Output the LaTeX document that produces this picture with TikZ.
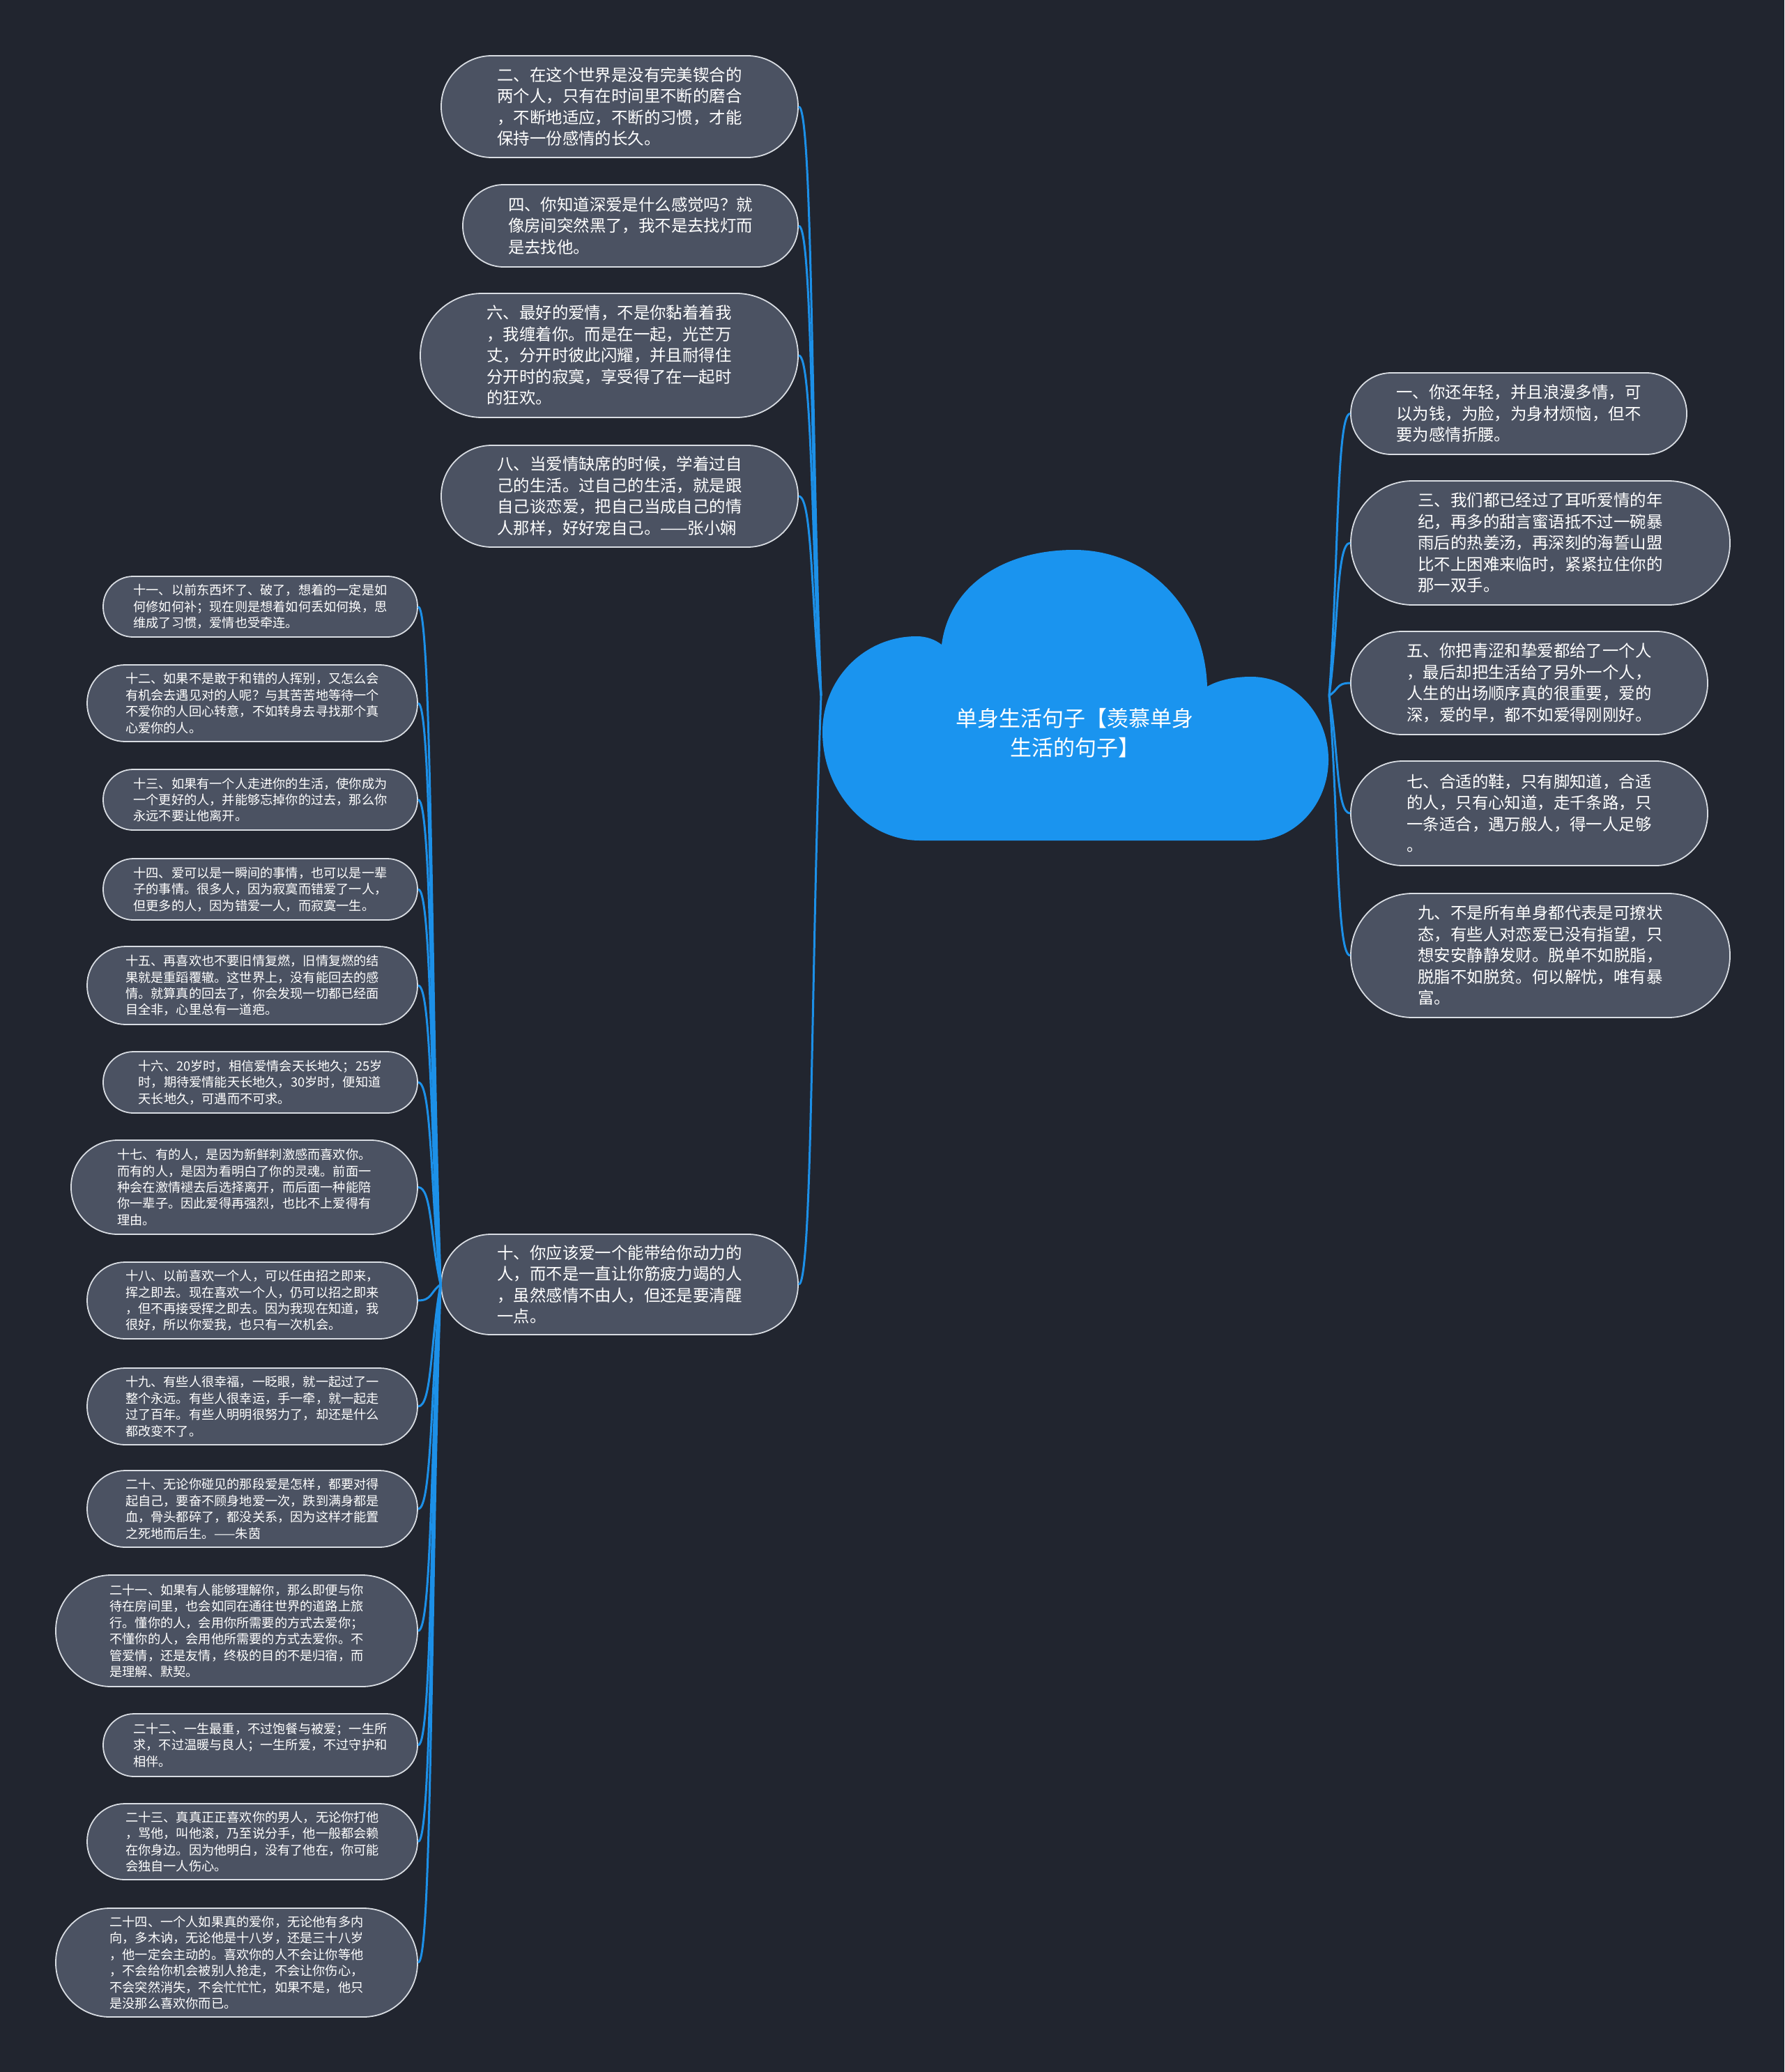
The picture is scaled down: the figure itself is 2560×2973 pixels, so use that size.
\documentclass[tikz,border=0pt]{standalone}
\usepackage{fontspec}
\setmainfont{Noto Sans CJK SC}
\usetikzlibrary{calc}
\definecolor{bgc}{HTML}{21252F}
\definecolor{nodec}{HTML}{4B5262}
\definecolor{cloudc}{HTML}{1A94EF}
\definecolor{linec}{HTML}{1C90E8}
\definecolor{edgec}{HTML}{D8DCE2}
\begin{document}
\begin{tikzpicture}[x=1pt,y=-1pt,
  bigtxt/.style={font=\fontsize{23.4pt}{30.5pt}\selectfont},
  smalltxt/.style={font=\fontsize{18.2pt}{23.4pt}\selectfont},
  capsule/.style 2 args={draw=edgec, line width=1.8pt, fill=nodec, text=white,
    align=left, inner sep=0pt, minimum width=#1pt, minimum height=#2pt,
    rounded corners=#2pt/2-0.5pt},
  conn/.style={draw=linec, line width=3pt}]
\useasboundingbox (0,0) rectangle (2560,2973);
\fill[bgc] (0,0) rectangle (2560,2973);

% cloud
\fill[cloudc] (1351,925)
  .. controls (1362,840) and (1440,789) .. (1541,789)
  .. controls (1646,789) and (1728,870) .. (1732,985)
  .. controls (1748,976) and (1770,971) .. (1795,971)
  .. controls (1856,971) and (1906,1024) .. (1906,1090)
  .. controls (1906,1154) and (1858,1206) .. (1800,1206)
  -- (1320,1206)
  .. controls (1243,1206) and (1180,1136) .. (1180,1050)
  .. controls (1180,974) and (1240,913) .. (1315,913)
  .. controls (1330,913) and (1342,918) .. (1351,925) -- cycle;
\node[font=\fontsize{31pt}{42pt}\selectfont, text=white, align=center] (title) at (1542,1052)
  {单身生活句子【羡慕单身\\生活的句子】};
\coordinate (OL) at (1178,998);
\coordinate (OR) at (1907,998);

% left upper
\node[capsule={512}{146}, bigtxt] (n2) at (889,153) {二、在这个世界是没有完美锲合的\\两个人，只有在时间里不断的磨合\\，不断地适应，不断的习惯，才能\\保持一份感情的长久。};
\node[capsule={481}{118}, bigtxt] (n4) at (904.5,324) {四、你知道深爱是什么感觉吗？就\\像房间突然黑了，我不是去找灯而\\是去找他。};
\node[capsule={542}{178}, bigtxt] (n6) at (874,510) {六、最好的爱情，不是你黏着着我\\，我缠着你。而是在一起，光芒万\\丈，分开时彼此闪耀，并且耐得住\\分开时的寂寞，享受得了在一起时\\的狂欢。};
\node[capsule={512}{146}, bigtxt] (n8) at (889,712) {八、当爱情缺席的时候，学着过自\\己的生活。过自己的生活，就是跟\\自己谈恋爱，把自己当成自己的情\\人那样，好好宠自己。——张小娴};
\node[capsule={512}{144}, bigtxt] (n10) at (889,1843) {十、你应该爱一个能带给你动力的\\人，而不是一直让你筋疲力竭的人\\，虽然感情不由人，但还是要清醒\\一点。};

% right
\node[capsule={482}{117}, bigtxt] (n1) at (2179,593.5) {一、你还年轻，并且浪漫多情，可\\以为钱，为脸，为身材烦恼，但不\\要为感情折腰。};
\node[capsule={544}{178}, bigtxt] (n3) at (2210,779) {三、我们都已经过了耳听爱情的年\\纪，再多的甜言蜜语抵不过一碗暴\\雨后的热姜汤，再深刻的海誓山盟\\比不上困难来临时，紧紧拉住你的\\那一双手。};
\node[capsule={512}{148}, bigtxt] (n5) at (2194,980) {五、你把青涩和挚爱都给了一个人\\，最后却把生活给了另外一个人，\\人生的出场顺序真的很重要，爱的\\深，爱的早，都不如爱得刚刚好。};
\node[capsule={512}{150}, bigtxt] (n7) at (2194,1167) {七、合适的鞋，只有脚知道，合适\\的人，只有心知道，走千条路，只\\一条适合，遇万般人，得一人足够\\。};
\node[capsule={544}{178}, bigtxt] (n9) at (2210,1371) {九、不是所有单身都代表是可撩状\\态，有些人对恋爱已没有指望，只\\想安安静静发财。脱单不如脱脂，\\脱脂不如脱贫。何以解忧，唯有暴\\富。};

% small
\node[capsule={451}{87}, smalltxt] (n11) at (373.5,870.5) {十一、以前东西坏了、破了，想着的一定是如\\何修如何补；现在则是想着如何丢如何换，思\\维成了习惯，爱情也受牵连。};
\node[capsule={474}{110}, smalltxt] (n12) at (362,1009) {十二、如果不是敢于和错的人挥别，又怎么会\\有机会去遇见对的人呢？与其苦苦地等待一个\\不爱你的人回心转意，不如转身去寻找那个真\\心爱你的人。};
\node[capsule={451}{87}, smalltxt] (n13) at (373.5,1147.5) {十三、如果有一个人走进你的生活，使你成为\\一个更好的人，并能够忘掉你的过去，那么你\\永远不要让他离开。};
\node[capsule={451}{88}, smalltxt] (n14) at (373.5,1276) {十四、爱可以是一瞬间的事情，也可以是一辈\\子的事情。很多人，因为寂寞而错爱了一人，\\但更多的人，因为错爱一人，而寂寞一生。};
\node[capsule={474}{112}, smalltxt] (n15) at (362,1414) {十五、再喜欢也不要旧情复燃，旧情复燃的结\\果就是重蹈覆辙。这世界上，没有能回去的感\\情。就算真的回去了，你会发现一切都已经面\\目全非，心里总有一道疤。};
\node[capsule={451}{88}, smalltxt] (n16) at (373.5,1553) {十六、20岁时，相信爱情会天长地久；25岁\\时，期待爱情能天长地久，30岁时，便知道\\天长地久，可遇而不可求。};
\node[capsule={497}{135}, smalltxt] (n17) at (350.5,1703.5) {十七、有的人，是因为新鲜刺激感而喜欢你。\\而有的人，是因为看明白了你的灵魂。前面一\\种会在激情褪去后选择离开，而后面一种能陪\\你一辈子。因此爱得再强烈，也比不上爱得有\\理由。};
\node[capsule={474}{110}, smalltxt] (n18) at (362,1866) {十八、以前喜欢一个人，可以任由招之即来，\\挥之即去。现在喜欢一个人，仍可以招之即来\\，但不再接受挥之即去。因为我现在知道，我\\很好，所以你爱我，也只有一次机会。};
\node[capsule={474}{110}, smalltxt] (n19) at (362,2018) {十九、有些人很幸福，一眨眼，就一起过了一\\整个永远。有些人很幸运，手一牵，就一起走\\过了百年。有些人明明很努力了，却还是什么\\都改变不了。};
\node[capsule={474}{110}, smalltxt] (n20) at (362,2165) {二十、无论你碰见的那段爱是怎样，都要对得\\起自己，要奋不顾身地爱一次，跌到满身都是\\血，骨头都碎了，都没关系，因为这样才能置\\之死地而后生。——朱茵};
\node[capsule={519}{160}, smalltxt] (n21) at (339.5,2340) {二十一、如果有人能够理解你，那么即便与你\\待在房间里，也会如同在通往世界的道路上旅\\行。懂你的人，会用你所需要的方式去爱你；\\不懂你的人，会用他所需要的方式去爱你。不\\管爱情，还是友情，终极的目的不是归宿，而\\是理解、默契。};
\node[capsule={451}{90}, smalltxt] (n22) at (373.5,2504) {二十二、一生最重，不过饱餐与被爱；一生所\\求，不过温暖与良人；一生所爱，不过守护和\\相伴。};
\node[capsule={474}{109}, smalltxt] (n23) at (362,2642.5) {二十三、真真正正喜欢你的男人，无论你打他\\，骂他，叫他滚，乃至说分手，他一般都会赖\\在你身边。因为他明白，没有了他在，你可能\\会独自一人伤心。};
\node[capsule={519}{156}, smalltxt] (n24) at (339.5,2816) {二十四、一个人如果真的爱你，无论他有多内\\向，多木讷，无论他是十八岁，还是三十八岁\\，他一定会主动的。喜欢你的人不会让你等他\\，不会给你机会被别人抢走，不会让你伤心，\\不会突然消失，不会忙忙忙，如果不是，他只\\是没那么喜欢你而已。};

\coordinate (O10) at (n10.west);

% connectors
\foreach \n in {n2,n4,n6,n8,n10}
  \draw[conn] (\n.east) .. controls +(20,0) and ($(OL)!0.45!(\n.east)$) .. (OL);
\foreach \n in {n1,n3,n5,n7,n9}
  \draw[conn] (\n.west) .. controls +(-20,0) and ($(OR)!0.45!(\n.west)$) .. (OR);
\foreach \n in {n11,n12,n13,n14,n15,n16,n17,n18,n19,n20,n21,n22,n23,n24}
  \draw[conn] (\n.east) .. controls +(20,0) and ($(O10)!0.45!(\n.east)$) .. (O10);
\end{tikzpicture}
\end{document}
